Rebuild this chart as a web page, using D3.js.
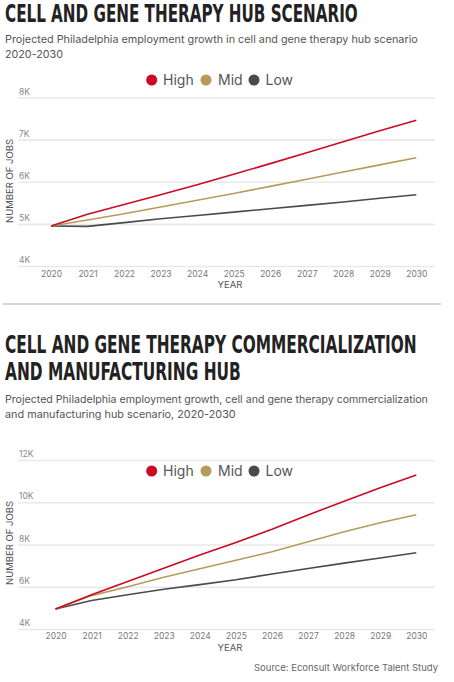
<!DOCTYPE html>
<html><head><meta charset="utf-8">
<script src="https://cdn.jsdelivr.net/npm/d3@7"></script>
<style>
body{margin:0;background:#fff;}
svg{display:block;}
</style></head>
<body><svg id="c" width="454" height="682"></svg>
<script>
const years = [2020,2021,2022,2023,2024,2025,2026,2027,2028,2029,2030];
const seriesNames = ["High","Mid","Low"];
const seriesColors = ["#cc0a22","#b79b5b","#4a4a4a"];

// Chart 1: Cell and gene therapy hub scenario
const hubHigh = [4950,5230,5460,5690,5930,6180,6430,6690,6950,7210,7460];
const hubMid  = [4950,5090,5240,5400,5560,5720,5890,6060,6230,6400,6570];
const hubLow  = [4950,4940,5030,5120,5200,5280,5360,5440,5520,5610,5690];
const hubYTicks = [4000,5000,6000,7000,8000];

// Chart 2: Commercialization and manufacturing hub
const cmHigh = [4950,5620,6250,6880,7500,8100,8720,9400,10050,10690,11290];
const cmMid  = [4950,5580,6000,6450,6850,7250,7660,8130,8600,9030,9410];
const cmLow  = [4950,5350,5620,5880,6100,6330,6600,6860,7120,7360,7610];
const cmYTicks = [4000,6000,8000,10000,12000];

const svg = d3.select("#c");
const bodyFont = "Inter, 'Open Sans', sans-serif";
const titleFont = "'Liberation Sans Narrow','DejaVu Sans Condensed','Roboto',sans-serif";

function title(lines, y0, lh, widths){
  lines.forEach((t,i)=>{
    const el = svg.append("text").attr("x",0).attr("y",0)
      .attr("font-family",titleFont).attr("font-weight",700)
      .attr("font-size",25).attr("fill","#222").text(t);
    const w = el.node().getComputedTextLength();
    el.attr("transform",`translate(5,${y0+i*lh}) scale(${widths[i]/w},1)`);
  });
}
function subtitle(lines, y0, widths){
  lines.forEach((t,i)=>{
    const el = svg.append("text").attr("x",5).attr("y",y0+i*15)
      .attr("font-family",bodyFont).attr("font-size",12).attr("fill","#555").text(t);
    const w = el.node().getComputedTextLength();
    el.attr("font-size",12*widths[i]/w);
  });
}
function legend(cy){
  const pos = [{cx:151.7,tx:163},{cx:206,tx:218},{cx:254,tx:265.5}];
  seriesNames.forEach((n,i)=>{
    svg.append("circle").attr("cx",pos[i].cx).attr("cy",cy).attr("r",5.5).attr("fill",seriesColors[i]);
    svg.append("text").attr("x",pos[i].tx).attr("y",cy+5).attr("font-family",bodyFont)
      .attr("font-size",14).attr("fill","#555").text(n);
  });
}
function chart(cfg){
  const x = d3.scaleLinear().domain([2020,2030]).range([cfg.x0,cfg.x1]);
  const y = d3.scaleLinear().domain(cfg.yDomain).range([cfg.yB,cfg.yT]);
  const g = svg.append("g");
  const ga = g.append("g").attr("transform",`translate(${cfg.gx1},0)`)
    .call(d3.axisLeft(y).tickValues(cfg.yTicks).tickSize(cfg.gx1-cfg.gx0).tickFormat(""));
  ga.select(".domain").remove();
  ga.selectAll(".tick line").attr("stroke","#e9e9e9").attr("stroke-width",1.6);
  g.selectAll(".ylab").data(cfg.yTicks).enter().append("text")
    .attr("x",cfg.gx0+1).attr("y",d=>y(d)-3)
    .attr("font-family",bodyFont).attr("font-size",8.5).attr("fill","#888")
    .text(d=>(d/1000)+"K");
  const xa = g.append("g").attr("transform",`translate(0,${cfg.yB})`)
    .call(d3.axisBottom(x).tickValues(years).tickSize(0).tickPadding(cfg.pad).tickFormat(d3.format("d")));
  xa.select(".domain").remove();
  xa.selectAll("text").attr("font-family",bodyFont).attr("font-size",8.5).attr("fill","#777");
  g.append("text").attr("x",230).attr("y",cfg.yearY).attr("text-anchor","middle")
    .attr("font-family",bodyFont).attr("font-size",9.5).attr("fill","#555").text("YEAR");
  g.append("text").attr("transform",`translate(13,${cfg.yTitleY}) rotate(-90)`).attr("text-anchor","middle")
    .attr("font-family",bodyFont).attr("font-size",9.5).attr("fill","#555").text("NUMBER OF JOBS");
  const line = d3.line().x((d,i)=>x(years[i])).y(d=>y(d));
  [2,1,0].forEach(i=>{
    g.append("path").attr("d",line(cfg.series[i])).attr("fill","none")
      .attr("stroke",seriesColors[i]).attr("stroke-width",1.6);
  });
}

title(["CELL AND GENE THERAPY HUB SCENARIO"],22,27,[353]);
subtitle(["Projected Philadelphia employment growth in cell and gene therapy hub scenario","2020-2030"],43,[413,58]);
legend(80);
chart({x0:51,x1:416.3,gx0:18,gx1:435,yDomain:[4000,8000],yB:266,yT:97.5,yTicks:hubYTicks,
  series:[hubHigh,hubMid,hubLow],yearY:288,yTitleY:181,pad:4.5});

svg.append("line").attr("x1",3).attr("x2",441).attr("y1",304).attr("y2",304)
  .attr("stroke","#c8c8c8").attr("stroke-width",1.5);

title(["CELL AND GENE THERAPY COMMERCIALIZATION","AND MANUFACTURING HUB"],353,27,[412,236]);
subtitle(["Projected Philadelphia employment growth, cell and gene therapy commercialization","and manufacturing hub scenario, 2020-2030"],403,[423,231]);
legend(471);
chart({x0:55.5,x1:416.3,gx0:18,gx1:435,yDomain:[4000,12000],yB:629,yT:460,yTicks:cmYTicks,
  series:[cmHigh,cmMid,cmLow],yearY:651,yTitleY:543,pad:4});

svg.append("text").attr("x",438).attr("y",671).attr("text-anchor","end")
  .attr("font-family",bodyFont).attr("font-size",9.5).attr("fill","#666")
  .text("Source: Econsult Workforce Talent Study");
</script></body></html>
